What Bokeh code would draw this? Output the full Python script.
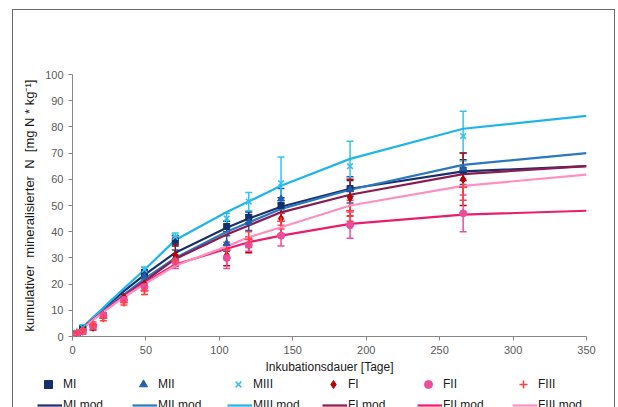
import math
from bokeh.plotting import figure
from bokeh.layouts import column
from bokeh.models import (ColumnDataSource, Whisker, TeeHead, Legend, LegendItem,
                          FixedTicker, Range1d)
from bokeh.embed import file_html
from bokeh.resources import INLINE

nan = float("nan")

# ---------------- data ----------------
days = [0, 3, 7, 14, 21, 35, 49, 70, 105, 120, 142, 189, 266]
model_days = [0, 3, 7, 14, 21, 35, 49, 70, 105, 120, 142, 189, 266, 350]

MI = [0, 1, 3, nan, nan, nan, 24, 36.5, 42, 45.5, 50, 56.5, 63.5]
MI_err = [0, 0.5, 1, nan, nan, nan, 1.5, 2, 2, 2, 3, 3, 4]
MII = [0, 1, 2.5, nan, nan, nan, 23, 30, 35.5, 43.5, 52.5, 56, 64]
MII_err = [0, 1, 1, nan, nan, nan, 1.5, 3, 3, 3, 4, 5, 6]
MIII = [0, 1.5, 3.5, nan, nan, nan, 25.5, 38, 45, 51.5, 58.5, 65, 76.5]
MIII_err = [0, 0.5, 1, nan, nan, nan, 1, 1.5, 2, 3.5, 10, 9.5, 9.5]
FI = [0, 1, 2, 3.5, 8, 15, 20, 31, 31, 35, 45, 53, 60]
FI_err = [0, 0.5, 1, 1, 1, 1, 1.5, 4, 4, 3, 6, 7, 10]
FII = [0, 1, 2, 4, 8, 14, 19, 28.5, 30, 35, 38.5, 42.5, 47]
FII_err = [0, 0.5, 1, 1, 1, 1, 1.5, 2.5, 4, 2.5, 4, 5, 7]
FIII = [0, 1.5, 2.5, 4.5, 7, 13, 17.5, 29, 33, 37, 44, 48, 57]
FIII_err = [0, 0.5, 1, 1, 1, 1, 1.5, 2, 3, 3, 3, 4, 5]

MI_mod = [0, 1.5, 3.5, 7, 10.5, 17.3, 23.5, 32, 41.5, 45, 49.5, 56.4, 63, 65]
MII_mod = [0, 1.4, 3.2, 6.6, 10, 16, 22, 30, 40, 43.5, 48.7, 56, 65.5, 70]
MIII_mod = [0, 1.6, 3.6, 7.3, 11, 18.3, 25.5, 36.8, 47.5, 51.5, 57.5, 67.8, 79.3, 84.2]
FI_mod = [0, 1.4, 3.2, 6.5, 9.5, 15.5, 21, 29.6, 38.9, 42.4, 47.4, 54.1, 62, 65]
FII_mod = [0, 1.4, 3.1, 6.5, 9.5, 15.3, 20.5, 27.5, 33.5, 36, 38.5, 43, 46.5, 48]
FIII_mod = [0, 1.3, 3, 6.3, 9.3, 15, 20, 27, 34.4, 37.9, 41.7, 50, 57.5, 61.8]

x_ticks = [0, 50, 100, 150, 200, 250, 300, 350]
y_ticks = [0, 10, 20, 30, 40, 50, 60, 70, 80, 90, 100]

series = [
    ("MI", MI, MI_err, "square", "#13306b", 6, MI_mod, "#1a2f6b"),
    ("MII", MII, MII_err, "triangle", "#1f5fae", 7, MII_mod, "#2a78c0"),
    ("MIII", MIII, MIII_err, "x", "#33c3f0", 8, MIII_mod, "#1fb5ec"),
    ("FI", FI, FI_err, "diamond", "#c00000", 8, FI_mod, "#8c1a50"),
    ("FII", FII, FII_err, "circle", "#ee4b9b", 7, FII_mod, "#ec1c6c"),
    ("FIII", FIII, FIII_err, "cross", "#ff4040", 8, FIII_mod, "#ff8fbf"),
]

FONT = "Liberation Sans"

p = figure(width=601, height=366, output_backend="svg", toolbar_location=None,
           x_range=Range1d(0, 350), y_range=Range1d(0, 100),
           min_border_left=59, min_border_right=28, min_border_top=64, min_border_bottom=40)
p.outline_line_color = None
p.xgrid.visible = False
p.ygrid.visible = False
p.background_fill_color = "white"
p.border_fill_color = "white"

for ax in (p.xaxis[0], p.yaxis[0]):
    ax.axis_line_color = "#868686"
    ax.major_tick_line_color = "#868686"
    ax.major_tick_out = 4
    ax.major_tick_in = 0
    ax.minor_tick_line_color = None
    ax.major_label_text_font = FONT
    ax.major_label_text_font_size = "11px"
    ax.major_label_text_color = "#595959"
    ax.axis_label_text_font = FONT
    ax.axis_label_text_font_size = "12px"
    ax.axis_label_text_font_style = "normal"
    ax.axis_label_text_color = "#1a1a1a"

p.xaxis.ticker = FixedTicker(ticks=x_ticks)
p.yaxis.ticker = FixedTicker(ticks=y_ticks)
p.xaxis.axis_label = "Inkubationsdauer [Tage]"
p.yaxis.axis_label = "kumulativer \u00a0mineralisierter \u00a0N \u00a0[mg N * kg\u207b\u00b9]"
p.yaxis.axis_label_text_font_size = "13px"
p.xaxis.axis_label_standoff = 3
p.yaxis.axis_label_standoff = 5

# error bars
for name, vals, errs, marker, mcol, msize, mod, lcol in series:
    xs, up, lo = [], [], []
    for d, v, e in zip(days, vals, errs):
        if not (math.isnan(v) or math.isnan(e)) and e > 0:
            xs.append(d); up.append(v + e); lo.append(v - e)
    src = ColumnDataSource(dict(base=xs, upper=up, lower=lo))
    w = Whisker(source=src, base="base", upper="upper", lower="lower",
                line_color=mcol, line_width=1.5,
                upper_head=TeeHead(size=7, line_color=mcol, line_width=1.5),
                lower_head=TeeHead(size=7, line_color=mcol, line_width=1.5))
    p.add_layout(w)

# model lines
for name, vals, errs, marker, mcol, msize, mod, lcol in series:
    p.line(model_days, mod, line_color=lcol, line_width=2.2)

# measured points
for name, vals, errs, marker, mcol, msize, mod, lcol in series:
    xs = [d for d, v in zip(days, vals) if not math.isnan(v)]
    ys = [v for v in vals if not math.isnan(v)]
    lw = 1.6 if marker in ("x", "cross") else 1
    p.scatter(xs, ys, marker=marker, size=msize, fill_color=mcol, line_color=mcol,
              line_width=lw)

# ---------------- legend strip (separate figure below the chart) ----------------
lg = figure(width=601, height=40, output_backend="svg", toolbar_location=None,
            x_range=Range1d(0, 10), y_range=Range1d(0, 10),
            x_axis_type=None, y_axis_type=None,
            min_border_left=0, min_border_right=0, min_border_top=0, min_border_bottom=0)
try:
    lg.frame_align = False
except Exception:
    pass
lg.xgrid.visible = False
lg.ygrid.visible = False
lg.outline_line_color = None
lg.background_fill_color = "white"
lg.border_fill_color = "white"

marker_items = []
line_items = []
for name, vals, errs, marker, mcol, msize, mod, lcol in series:
    lw = 1.6 if marker in ("x", "cross") else 1
    rm = lg.scatter([-5], [-5], marker=marker, size=msize, fill_color=mcol,
                    line_color=mcol, line_width=lw)
    marker_items.append(LegendItem(label=name, renderers=[rm]))
    rl = lg.line([-5, -4], [-5, -5], line_color=lcol, line_width=2.2)
    line_items.append(LegendItem(label=name + " mod.", renderers=[rl]))

common = dict(orientation="horizontal", spacing=0, padding=0, margin=0,
              border_line_alpha=0, background_fill_alpha=0,
              label_text_font=FONT, label_text_font_size="12px",
              label_text_color="#1a1a1a", label_height=20, glyph_height=20)

leg1 = Legend(items=marker_items, location=(25, 22), glyph_width=20,
              label_standoff=5, label_width=70, **common)
leg2 = Legend(items=line_items, location=(24, 1), glyph_width=25,
              label_standoff=1, label_width=69, **common)
lg.add_layout(leg1)
lg.add_layout(leg2)

layout = column(p, lg, spacing=0)
layout.margin = (9, 0, -10, 12)
layout.styles = {"border-top": "1px solid #6a6a6a", "border-left": "1px solid #6a6a6a",
                 "border-right": "1px solid #6a6a6a"}

open("out.html", "w").write(file_html(layout, INLINE))
